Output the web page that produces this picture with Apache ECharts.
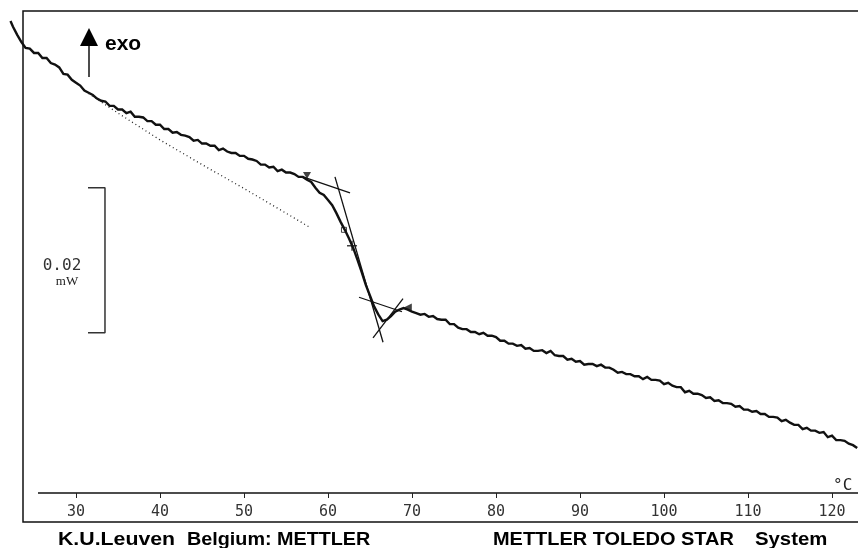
<!DOCTYPE html>
<html>
<head>
<meta charset="utf-8">
<script src="https://cdn.jsdelivr.net/npm/echarts@6/dist/echarts.min.js"></script>
<style>html,body{margin:0;padding:0;background:#fff}#c{width:858px;height:548px}</style>
</head>
<body>
<div id="c"></div>
<script>
// Temperature (°C)
var temps = [22.2,22.5,23,23.5,24,24.5,25,25.5,26,26.5,27,27.5,28,28.5,29,29.5,30,30.5,31,31.5,32,32.5,33,33.5,34,34.5,35,35.5,36,36.5,37,37.5,38,38.5,39,39.5,40,40.5,41,41.5,42,42.5,43,43.5,44,44.5,45,45.5,46,46.5,47,47.5,48,48.5,49,49.5,50,50.5,51,51.5,52,52.5,53,53.5,54,54.5,55,55.5,56,56.5,57,57.5,58,58.5,59,59.5,60,60.5,61,61.5,62,62.5,63,63.5,64,64.5,65,65.5,66,66.5,67,67.5,68,68.5,69,69.5,70,70.5,71,71.5,72,72.5,73,73.5,74,74.5,75,75.5,76,76.5,77,77.5,78,78.5,79,79.5,80,80.5,81,81.5,82,82.5,83,83.5,84,84.5,85,85.5,86,86.5,87,87.5,88,88.5,89,89.5,90,90.5,91,91.5,92,92.5,93,93.5,94,94.5,95,95.5,96,96.5,97,97.5,98,98.5,99,99.5,100,100.5,101,101.5,102,102.5,103,103.5,104,104.5,105,105.5,106,106.5,107,107.5,108,108.5,109,109.5,110,110.5,111,111.5,112,112.5,113,113.5,114,114.5,115,115.5,116,116.5,117,117.5,118,118.5,119,119.5,120,120.5,121,121.5,122,122.5,123];
// Heat flow (µW, relative; exo up)
var heatFlow = [65.1,
64.3,63.2,62.2,61.4,61.3,60.7,60.7,60.0,60.0,59.3,
59.1,58.7,57.8,57.7,57.0,56.6,56.2,55.5,55.2,54.9,
54.4,54.1,54.0,53.4,53.4,52.9,52.9,52.4,52.6,51.9,
51.9,51.8,51.3,51.3,50.8,50.8,50.2,50.2,49.7,49.8,
49.4,49.3,49.1,48.6,48.7,48.2,48.2,47.9,47.9,47.3,
47.5,47.1,46.9,46.9,46.5,46.5,46.1,46.0,45.8,45.3,
45.3,44.9,45.0,44.4,44.6,44.2,44.2,44.0,43.6,43.6,
43.2,42.9,42.1,41.4,41.1,40.4,39.7,38.6,37.4,36.3,
35.1,33.8,32.2,30.5,28.7,27.2,25.7,24.6,23.7,23.9,
24.4,25.0,25.3,25.5,25.3,25.0,24.8,24.6,24.7,24.3,
24.4,24.0,23.9,23.9,23.3,23.3,22.8,22.6,22.6,22.2,
22.2,21.9,22.1,21.7,21.7,21.5,21.0,21.0,20.6,20.6,
20.3,20.4,19.9,20.0,19.6,19.6,19.7,19.3,19.6,19.0,
18.9,18.9,18.4,18.5,18.1,18.2,17.7,17.8,17.8,17.5,
17.7,17.3,17.3,17.0,16.6,16.7,16.4,16.4,16.1,16.1,
15.7,16.0,15.6,15.6,15.5,15.0,15.2,14.8,14.6,14.6,
13.9,14.1,13.7,13.7,13.5,13.1,13.2,12.7,12.8,12.4,
12.4,12.3,11.9,12.0,11.5,11.5,11.2,11.3,10.9,10.9,
10.5,10.5,10.4,9.9,10.1,9.7,9.4,9.4,8.8,9.0,
8.6,8.6,8.3,8.4,7.7,7.9,7.3,7.3,7.2,6.8,
6.6,6.2];
// Extrapolated baseline (dotted)
var baselineTemps = [31.5,35,40,45,50,55,57.9];
var baselineFlow  = [55.1,52.4,48.7,45.3,42.0,38.6,36.6];
// Evaluation tangents [T1,h1,T2,h2]
var tangentOnset  = [57.02,43.6,62.62,41.4];
var tangentSteep  = [60.83,43.6,66.55,20.8];
var tangentEnd    = [63.69,27.0,68.81,25.0];
var tangentCross  = [65.36,21.4,68.93,26.8];
// Evaluation markers [T,h]
var markOnsetFlag = [57.5,43.8];
var markSquare    = [61.9,36.3];
var markMidpoint  = [62.86,34.1];
var markEndFlag   = [69.5,25.6];
// Scale bar: 0.02 mW = 20 µW
var scaleBarTemps = [31.43,33.45];
var scaleBarLow = 22.1, scaleBarSpan = 20;
// Axis ticks
var tickValues = [30,40,50,60,70,80,90,100,110,120];

var curve = temps.map(function(t,i){return [t, heatFlow[i]];});
var baseline = baselineTemps.map(function(t,i){return [t, baselineFlow[i]];});
function seg(a){return [[a[0],a[1]],[a[2],a[3]]];}
var scaleBar = [[scaleBarTemps[0],scaleBarLow+scaleBarSpan],[scaleBarTemps[1],scaleBarLow+scaleBarSpan],[scaleBarTemps[1],scaleBarLow],[scaleBarTemps[0],scaleBarLow]];

var ink = '#111';
function lineSeries(data, w, extra){
  var s = {type:'line', data:data, symbol:'none', silent:true, animation:false, clip:false,
    lineStyle:{color:ink, width:w}};
  if(extra){ for(var k in extra) s.lineStyle[k]=extra[k]; }
  return s;
}
var plusPath = 'path://M0,5L10,5M5,0L5,10';
var chart = echarts.init(document.getElementById('c'), null, {renderer:'canvas'});
chart.setOption({
  animation:false,
  backgroundColor:'#fff',
  grid:{left:0, right:0, top:0, bottom:55},
  xAxis:{type:'value', min:20.952, max:123.095, offset:4,
    axisLine:{show:false}, splitLine:{show:false},
    axisTick:{show:true, customValues:tickValues, length:5, lineStyle:{color:'#222', width:1}},
    axisLabel:{customValues:tickValues, fontFamily:'DejaVu Sans Mono', fontSize:15, color:'#333', margin:8}},
  yAxis:{type:'value', min:0, max:68, show:false},
  series:[
    lineSeries(curve, 2.4, {join:'miter'}),
    lineSeries(baseline, 1.3, {type:[1,3], color:'#222'}),
    lineSeries(seg(tangentOnset), 1.3),
    lineSeries(seg(tangentSteep), 1.3),
    lineSeries(seg(tangentEnd), 1.3),
    lineSeries(seg(tangentCross), 1.3),
    lineSeries(scaleBar, 1.5, {color:'#333'}),
    {type:'scatter', silent:true, animation:false, data:[markOnsetFlag], symbol:'triangle', symbolSize:[8,7], symbolRotate:180, itemStyle:{color:ink}},
    {type:'scatter', silent:true, animation:false, data:[markEndFlag], symbol:'triangle', symbolSize:[8,8], symbolRotate:90, itemStyle:{color:ink}},
    {type:'scatter', silent:true, animation:false, data:[markSquare], symbol:'rect', symbolSize:5, itemStyle:{color:'#fff', borderColor:ink, borderWidth:1}},
    {type:'scatter', silent:true, animation:false, data:[markMidpoint], symbol:plusPath, symbolSize:10, itemStyle:{color:'none', borderColor:ink, borderWidth:1.5}}
  ],
  graphic:[
    {type:'polyline', silent:true, shape:{points:[[858,11],[23,11],[23,522],[858,522]]}, style:{stroke:'#111', lineWidth:1.5, fill:null}},
    {type:'line', silent:true, shape:{x1:38,y1:493,x2:858,y2:493}, style:{stroke:'#111', lineWidth:1.5}},
    {type:'text', silent:true, x:833, y:486, style:{text:'°C', font:'16px "DejaVu Sans Mono"', fill:'#222', textAlign:'left', textVerticalAlign:'middle'}},
    {type:'line', silent:true, shape:{x1:89,y1:44,x2:89,y2:77}, style:{stroke:'#111', lineWidth:1.5}},
    {type:'polygon', silent:true, shape:{points:[[80,46],[98,46],[89,28]]}, style:{fill:'#000'}},
    {type:'text', silent:true, x:105, y:44, style:{text:'exo', font:'bold 21px "Liberation Sans"', fill:'#000', textAlign:'left', textVerticalAlign:'middle'}},
    {type:'text', silent:true, x:62, y:266, style:{text:'0.02', font:'16px "DejaVu Sans Mono"', fill:'#333', textAlign:'center', textVerticalAlign:'middle'}},
    {type:'text', silent:true, x:67, y:282, style:{text:'mW', font:'13px "Liberation Serif"', fill:'#222', textAlign:'center', textVerticalAlign:'middle'}},
    {type:'text', silent:true, x:58, y:540, scaleX:1.12, style:{text:'K.U.Leuven', font:'bold 19px "Liberation Sans"', fill:'#000', textAlign:'left', textVerticalAlign:'middle'}},
    {type:'text', silent:true, x:187, y:540, scaleX:1.04, style:{text:'Belgium: METTLER', font:'bold 19px "Liberation Sans"', fill:'#000', textAlign:'left', textVerticalAlign:'middle'}},
    {type:'text', silent:true, x:493, y:540, scaleX:1.05, style:{text:'METTLER TOLEDO STAR', font:'bold 19px "Liberation Sans"', fill:'#000', textAlign:'left', textVerticalAlign:'middle'}},
    {type:'text', silent:true, x:755, y:540, scaleX:1.07, style:{text:'System', font:'bold 19px "Liberation Sans"', fill:'#000', textAlign:'left', textVerticalAlign:'middle'}}
  ]
});
</script>
</body>
</html>
